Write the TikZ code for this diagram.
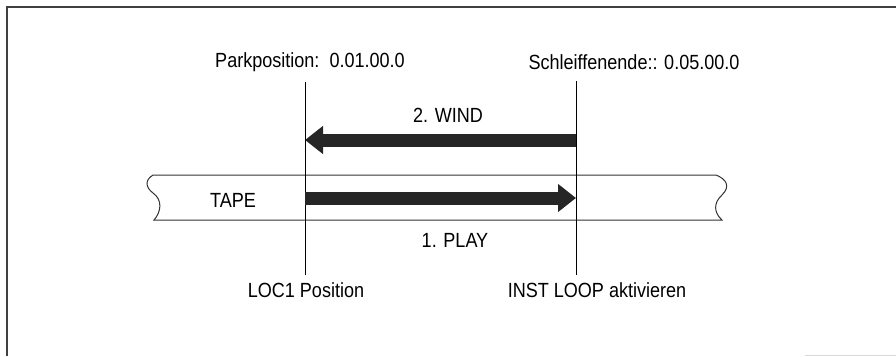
\documentclass[tikz,border=0pt]{standalone}
\usepackage{fontspec}
\setmainfont{Liberation Sans}[FakeStretch=0.88]
\usetikzlibrary{arrows.meta}

\begin{document}
\begin{tikzpicture}[x=1pt, y=-1pt,
    lbl/.style={font=\fontsize{20.5}{23}\selectfont, inner sep=0pt},
    marker/.style={black, line width=0.9pt},
    tapeline/.style={black!80, line width=1pt},
    motion/.style={black!85, line width=13pt,
        -{Triangle[length=18pt, width=27pt]}}]
    \useasboundingbox (0,0) rectangle (896,356);

    % Frame
    \draw[black!75, line width=2pt] (7,356) -- (7,7) -- (896,7);
    \draw[black!15, line width=1pt] (805,355) -- (896,355);

    % Tape
    \draw[tapeline] (716,175) -- (153,175)
        .. controls (145,180) and (145,187) .. (153,193)
        .. controls (163,200) and (161,212) .. (154,220) -- (722,220)
        .. controls (714,213) and (713,203) .. (722,195)
        .. controls (731,186) and (726,179) .. (716,175);
    \node[lbl] (tape) at (233,200) {TAPE};

    % Positions
    \node[lbl] (park) at (310,62) {Parkposition:\ \ 0.01.00.0};
    \node[lbl] (loopend) at (634,62) {Schleiffenende:: 0.05.00.0};
    \node[lbl] (loc) at (306,290) {LOC1 Position};
    \node[lbl] (inst) at (597,290) {INST LOOP aktivieren};

    \coordinate (ltop) at (305,82);
    \coordinate (lbot) at (305,275);
    \coordinate (rtop) at (576,81);
    \coordinate (rbot) at (576,275);
    \draw[marker] (ltop) -- (lbot);
    \draw[marker] (rtop) -- (rbot);

    % Motions
    \coordinate (windstart) at (576,140);
    \coordinate (windend) at (305,140);
    \coordinate (playstart) at (305,198);
    \coordinate (playend) at (576,198);
    \draw[motion] (windstart) -- (windend);
    \draw[motion] (playstart) -- (playend);
    \node[lbl] (wind) at (448,115) {2. WIND};
    \node[lbl] (play) at (455,240) {1. PLAY};

\end{tikzpicture}
\end{document}
